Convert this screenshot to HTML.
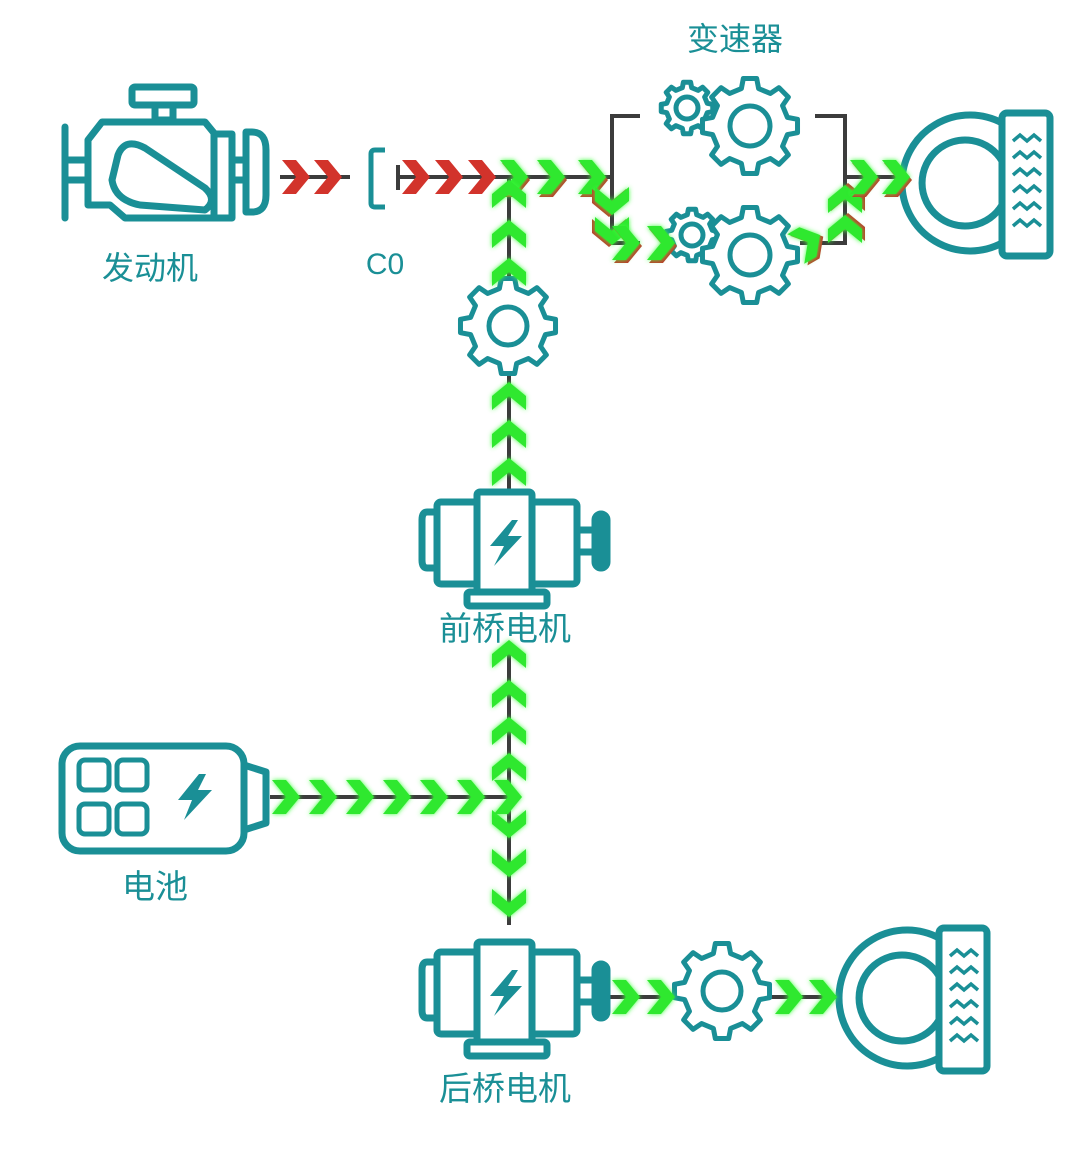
<!DOCTYPE html>
<html><head><meta charset="utf-8"><style>
html,body{margin:0;padding:0;background:#fff;}
svg{display:block}
text{font-family:"Liberation Sans","Noto Sans CJK SC",sans-serif;fill:#1a8f96;}
</style></head><body>
<svg width="1080" height="1172" viewBox="0 0 1080 1172" xmlns="http://www.w3.org/2000/svg">
<defs>
<filter id="glow" x="-50%" y="-50%" width="200%" height="200%"><feGaussianBlur stdDeviation="2.5"/></filter>
<path id="chev" d="M-28,-17 L-14,-17 L0,0 L-14,17 L-28,17 L-14,0 Z"/>
<g id="gC"><use href="#chev" fill="#3cff3c" filter="url(#glow)"/><use href="#chev" fill="#2fe82f"/></g>
<g id="rC"><use href="#chev" fill="#d2332b"/></g>
<g id="mC"><use href="#chev" fill="#c0392b" transform="translate(2,3)"/><use href="#chev" fill="#3cff3c" filter="url(#glow)"/><use href="#chev" fill="#2fe82f"/></g>
<polygon id="gear" points="0.779,-0.18 0.99,-0.139 0.99,0.139 0.779,0.18 0.678,0.424 0.799,0.602 0.602,0.799 0.424,0.678 0.18,0.779 0.139,0.99 -0.139,0.99 -0.18,0.779 -0.424,0.678 -0.602,0.799 -0.799,0.602 -0.678,0.424 -0.779,0.18 -0.99,0.139 -0.99,-0.139 -0.779,-0.18 -0.678,-0.424 -0.799,-0.602 -0.602,-0.799 -0.424,-0.678 -0.18,-0.779 -0.139,-0.99 0.139,-0.99 0.18,-0.779 0.424,-0.678 0.602,-0.799 0.799,-0.602 0.678,-0.424" fill="#fff" stroke="#1a8f96" stroke-width="5" stroke-linejoin="round" vector-effect="non-scaling-stroke"/>
<g id="motor" fill="#fff" stroke="#1a8f96" stroke-width="7" stroke-linejoin="round">
 <path d="M15,20 L5,20 Q0,20 0,28 L0,68 Q0,76 5,76 L15,76 Z"/>
 <rect x="15" y="10" width="140" height="82" rx="4"/>
 <rect x="55" y="0" width="55" height="100" rx="3"/>
 <rect x="45" y="100" width="80" height="14" rx="3"/>
 <rect x="155" y="38" width="18" height="22"/>
 <rect x="173" y="22" width="12" height="54" rx="6" fill="#1a8f96"/>
 <path d="M90,28 L68,54 L82,54 L72,74 L100,44 L86,44 L96,28 Z" fill="#1a8f96" stroke="none"/>
</g>
<g id="wheel" fill="none" stroke="#1a8f96" stroke-width="7">
 <path d="M100,-60 A68,68 0 1 0 100,60"/>
 <path d="M100,-22 A43,43 0 1 0 100,22"/>
 <rect x="100" y="-70" width="48" height="143" rx="5" fill="#fff"/>
 <g stroke-width="3.5" stroke-linejoin="miter"><path d="M111,-42 l7,-6 l7,6 l7,-6 l7,6"/><path d="M111,-25 l7,-6 l7,6 l7,-6 l7,6"/><path d="M111,-8 l7,-6 l7,6 l7,-6 l7,6"/><path d="M111,9 l7,-6 l7,6 l7,-6 l7,6"/><path d="M111,26 l7,-6 l7,6 l7,-6 l7,6"/><path d="M111,43 l7,-6 l7,6 l7,-6 l7,6"/></g>
</g>
</defs>

<g stroke="#3c3c3c" stroke-width="4" fill="none">
<line x1="280" y1="177" x2="350" y2="177"/>
<line x1="398" y1="177" x2="612" y2="177"/>
<line x1="398" y1="165" x2="398" y2="190"/>
<line x1="509" y1="177" x2="509" y2="280"/>
<line x1="509" y1="370" x2="509" y2="490"/>
<line x1="509" y1="645" x2="509" y2="925"/>
<line x1="270" y1="797" x2="509" y2="797"/>
<polyline points="640,116 612,116 612,243 640,243"/>
<polyline points="815,116 845,116 845,243 800,243"/>
<line x1="845" y1="177" x2="905" y2="177"/>
<line x1="610" y1="997" x2="680" y2="997"/>
<line x1="770" y1="997" x2="840" y2="997"/>
</g>

<g fill="none" stroke="#1a8f96" stroke-width="7" stroke-linejoin="round" stroke-linecap="round">
<rect x="132" y="87" width="62" height="18" rx="3"/>
<rect x="155" y="105" width="18" height="15"/>
<path d="M102,122 L205,122 L214,133 L214,218 L125,218 L110,205 L88,205 L88,140 Z"/>
<line x1="65" y1="127" x2="65" y2="218"/>
<rect x="65" y="160" width="23" height="20"/>
<rect x="214" y="134" width="18" height="84"/>
<rect x="232" y="160" width="14" height="20"/>
<path d="M246,132 L252,132 Q266,132 266,150 L266,195 Q266,212 252,212 L246,212 Z"/>
<path d="M118,155 Q125,137 145,148 L205,188 Q218,200 205,210 L140,205 Q115,200 112,180 Z"/>
</g>
<text x="150" y="279" font-size="32" text-anchor="middle">发动机</text>

<path d="M385,150 L375,150 Q371,150 371,154 L371,203 Q371,207 375,207 L385,207" fill="none" stroke="#1a8f96" stroke-width="5"/>
<text x="385" y="274" font-size="30" text-anchor="middle">C0</text>

<text x="735" y="50" font-size="32" text-anchor="middle">变速器</text>
<use href="#gear" transform="translate(687,108) scale(26)"/>
<circle cx="687" cy="108" r="11" fill="none" stroke="#1a8f96" stroke-width="5"/>
<use href="#gear" transform="translate(750,126) scale(48)"/>
<circle cx="750" cy="126" r="20" fill="none" stroke="#1a8f96" stroke-width="5"/>
<use href="#gear" transform="translate(692,235) scale(26)"/>
<circle cx="692" cy="235" r="11" fill="none" stroke="#1a8f96" stroke-width="5"/>
<use href="#gear" transform="translate(750,255) scale(48)"/>
<circle cx="750" cy="255" r="20" fill="none" stroke="#1a8f96" stroke-width="5"/>

<use href="#wheel" transform="translate(902,183)"/>

<use href="#gear" transform="translate(508,326) scale(48)"/>
<circle cx="508" cy="326" r="19" fill="none" stroke="#1a8f96" stroke-width="5"/>

<use href="#motor" transform="translate(422,492)"/>
<text x="505" y="640" font-size="33" text-anchor="middle">前桥电机</text>

<g fill="none" stroke="#1a8f96" stroke-width="7" stroke-linejoin="round">
<rect x="62" y="746" width="182" height="105" rx="18"/>
<path d="M244,765 L266,772 L266,823 L244,830"/>
<rect x="79" y="760" width="30" height="30" rx="6" stroke-width="5"/>
<rect x="117" y="760" width="30" height="30" rx="6" stroke-width="5"/>
<rect x="79" y="804" width="30" height="30" rx="6" stroke-width="5"/>
<rect x="117" y="804" width="30" height="30" rx="6" stroke-width="5"/>
<path d="M199,774 L178,800 L192,800 L184,820 L212,790 L198,790 L206,774 Z" fill="#1a8f96" stroke="none"/>
</g>
<text x="155" y="898" font-size="33" text-anchor="middle">电池</text>

<use href="#motor" transform="translate(422,942)"/>
<text x="505" y="1100" font-size="33" text-anchor="middle">后桥电机</text>
<use href="#gear" transform="translate(722,991) scale(48)"/>
<circle cx="722" cy="991" r="19" fill="none" stroke="#1a8f96" stroke-width="5"/>
<use href="#wheel" transform="translate(839,998)"/>

<use href="#rC" transform="translate(310,177)"/>
<use href="#rC" transform="translate(342,177)"/>
<use href="#rC" transform="translate(430,177)"/>
<use href="#rC" transform="translate(463,177)"/>
<use href="#rC" transform="translate(496,177)"/>
<use href="#mC" transform="translate(528,177)"/>
<use href="#mC" transform="translate(565,177)"/>
<use href="#mC" transform="translate(606,177)"/>
<use href="#mC" transform="translate(612,215) rotate(90)"/>
<use href="#mC" transform="translate(612,245) rotate(90)"/>
<use href="#mC" transform="translate(640,243)"/>
<use href="#mC" transform="translate(675,243)"/>
<use href="#mC" transform="translate(820,235) rotate(-30)"/>
<use href="#mC" transform="translate(845,185) rotate(-90)"/>
<use href="#mC" transform="translate(845,215) rotate(-90)"/>
<use href="#mC" transform="translate(878,177)"/>
<use href="#mC" transform="translate(910,177)"/>
<use href="#gC" transform="translate(509,180) rotate(-90)"/>
<use href="#gC" transform="translate(509,220) rotate(-90)"/>
<use href="#gC" transform="translate(509,258) rotate(-90)"/>
<use href="#gC" transform="translate(509,382) rotate(-90)"/>
<use href="#gC" transform="translate(509,420) rotate(-90)"/>
<use href="#gC" transform="translate(509,458) rotate(-90)"/>
<use href="#gC" transform="translate(509,640) rotate(-90)"/>
<use href="#gC" transform="translate(509,680) rotate(-90)"/>
<use href="#gC" transform="translate(509,717) rotate(-90)"/>
<use href="#gC" transform="translate(509,753) rotate(-90)"/>
<use href="#gC" transform="translate(509,838) rotate(90)"/>
<use href="#gC" transform="translate(509,877) rotate(90)"/>
<use href="#gC" transform="translate(509,917) rotate(90)"/>
<use href="#gC" transform="translate(300,797)"/>
<use href="#gC" transform="translate(337,797)"/>
<use href="#gC" transform="translate(374,797)"/>
<use href="#gC" transform="translate(411,797)"/>
<use href="#gC" transform="translate(448,797)"/>
<use href="#gC" transform="translate(485,797)"/>
<use href="#gC" transform="translate(522,797)"/>
<use href="#gC" transform="translate(640,997)"/>
<use href="#gC" transform="translate(675,997)"/>
<use href="#gC" transform="translate(803,997)"/>
<use href="#gC" transform="translate(837,997)"/>
</svg>
</body></html>
